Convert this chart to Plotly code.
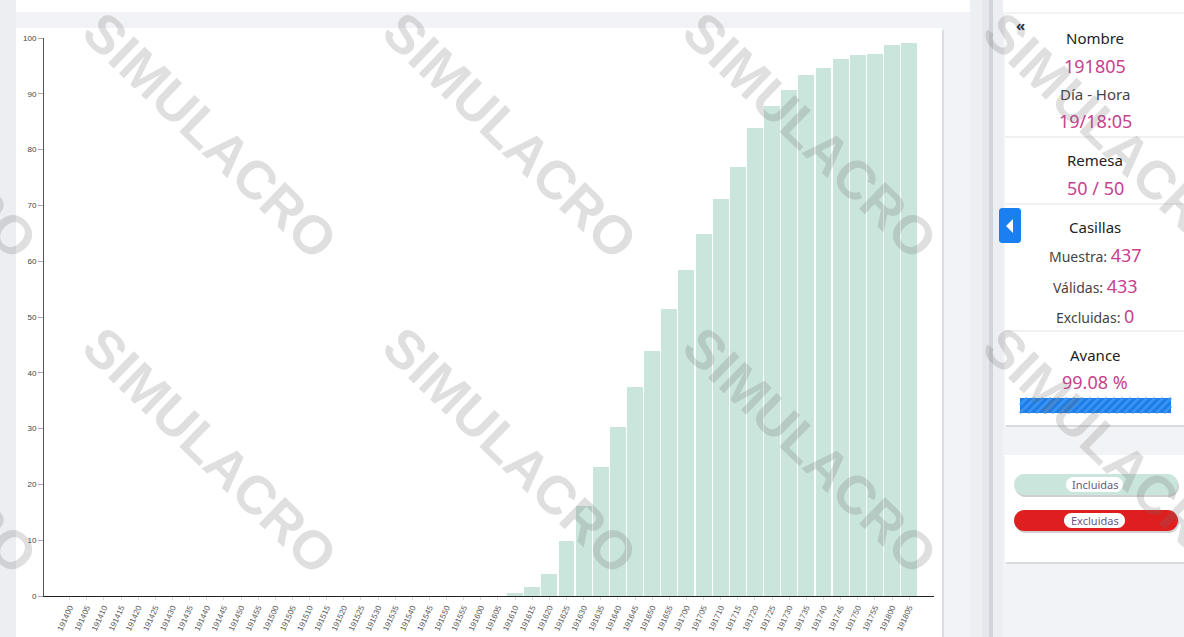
import plotly.graph_objects as go

W, H = 1184, 637

# ---------------- data ----------------
labels = ([f"1914{m:02d}" for m in range(0, 60, 5)] +
          [f"1915{m:02d}" for m in range(0, 60, 5)] +
          [f"1916{m:02d}" for m in range(0, 60, 5)] +
          [f"1917{m:02d}" for m in range(0, 60, 5)] +
          ["191800", "191805"])
incluidas = [0] * 26 + [0.5, 1.6, 4.0, 9.8, 16.2, 23.1, 30.2, 37.5, 43.9, 51.4,
                        58.4, 64.9, 71.1, 76.9, 83.9, 87.8, 90.7, 93.3, 94.6, 96.2,
                        96.9, 97.2, 98.7, 99.1]
excluidas = [0] * 50
yticks = [0, 10, 20, 30, 40, 50, 60, 70, 80, 90, 100]

casillas = [("Muestra:", "437"), ("Válidas:", "433"), ("Excluidas:", "0")]
avance = "99.08 %"
legend_items = [("Incluidas", "#c9e5dc"), ("Excluidas", "#df1f1f")]

# ---------------- helpers ----------------
def px(x):
    return x / W

def py(y):
    return 1 - y / H

def rrect_path(x0, y0, x1, y1, r):
    k = 0.5523 * r
    pts = [
        f"M {px(x0 + r)},{py(y0)}",
        f"L {px(x1 - r)},{py(y0)}",
        f"C {px(x1 - r + k)},{py(y0)} {px(x1)},{py(y0 + r - k)} {px(x1)},{py(y0 + r)}",
        f"L {px(x1)},{py(y1 - r)}",
        f"C {px(x1)},{py(y1 - r + k)} {px(x1 - r + k)},{py(y1)} {px(x1 - r)},{py(y1)}",
        f"L {px(x0 + r)},{py(y1)}",
        f"C {px(x0 + r - k)},{py(y1)} {px(x0)},{py(y1 - r + k)} {px(x0)},{py(y1 - r)}",
        f"L {px(x0)},{py(y0 + r)}",
        f"C {px(x0)},{py(y0 + r - k)} {px(x0 + r - k)},{py(y0)} {px(x0 + r)},{py(y0)}",
        "Z",
    ]
    return " ".join(pts)

shapes = []
annotations = []

def rect(x0, y0, x1, y1, color, layer="below"):
    shapes.append(dict(type="rect", xref="paper", yref="paper",
                       x0=px(x0), x1=px(x1), y0=py(y1), y1=py(y0),
                       fillcolor=color, line=dict(width=0), layer=layer))

def rpath(x0, y0, x1, y1, r, color, layer="below"):
    shapes.append(dict(type="path", xref="paper", yref="paper",
                       path=rrect_path(x0, y0, x1, y1, r), fillcolor=color,
                       line=dict(width=0), layer=layer))

def hline(x0, x1, y, color="#e3e3e3"):
    shapes.append(dict(type="line", xref="paper", yref="paper",
                       x0=px(x0), x1=px(x1), y0=py(y), y1=py(y),
                       line=dict(color=color, width=1), layer="below"))

def text(x, y, s, size=15, color="#222", family="Noto Sans", xanchor="center", **kw):
    annotations.append(dict(xref="paper", yref="paper", x=px(x), y=py(y), text=s,
                            showarrow=False, xanchor=xanchor, yanchor="middle",
                            font=dict(size=size, color=color, family=family), **kw))

PINK = "#c8418e"

# ---------------- page background ----------------
rect(0, 0, W, 12, "#ffffff")
rect(0, 0, 16, H, "#eceef2")
rect(970, 0, 989, H, "#eeeff3")
rect(982, 0, 989, H, "#e6e7ec")
rect(989, 0, 993, H, "#d2d3d8")
rect(993, 0, 1003, H, "#eceef2")
# chart card
rect(17, 30, 944, H, "#dcdde2")
rect(16, 28, 942, H, "#ffffff")
# right info card
rect(1006, 16, W, 427, "#d9dade")
rect(1005, 14, W, 425, "#ffffff")
# legend card
rect(1006, 457, W, 564, "#d9dade")
rect(1005, 455, W, 562, "#ffffff")

# ---------------- right panel ----------------
text(1020, 25, "<b>«</b>", size=15, color="#1c2a44")
text(1095, 38, "Nombre", 15, "#222")
text(1095, 66, "191805", 18, PINK)
text(1095, 94, "Día - Hora", 15, "#444")
text(1095, 121, "19/18:05", 18, PINK)
hline(1005, W, 137)
text(1095, 160, "Remesa", 15, "#222")
text(1095, 188, "50 / 50", 18, PINK)
hline(1005, W, 204)
text(1095, 227, "Casillas", 15, "#222")
for i, (lab, val) in enumerate(casillas):
    yy = [255, 286, 316][i]
    text(1095, yy, f"{lab} <span style='color:{PINK};font-size:18px'>{val}</span>", 14, "#444")
hline(1005, W, 331)
text(1095, 355, "Avance", 15, "#222")
text(1095, 382, avance, 18, PINK)
# progress bar with stripes
rect(1020, 398, 1171, 413, "#1e7ee8")
for sx in range(1012, 1175, 8):
    xa, xb = sx, sx + 15
    ya, yb = 413, 398
    x_start, y_start = xa, ya
    x_end, y_end = xb, yb
    if x_start < 1020:
        y_start = ya - (1020 - x_start); x_start = 1020
    if x_end > 1171:
        y_end = yb + (x_end - 1171); x_end = 1171
    if x_end > x_start and y_start > y_end:
        shapes.append(dict(type="line", xref="paper", yref="paper",
                           x0=px(x_start), y0=py(y_start), x1=px(x_end), y1=py(y_end),
                           line=dict(color="#3b93f2", width=2.5), layer="below"))
# blue tab
rpath(999, 208, 1021, 243, 3, "#1a80f2", layer="above")
shapes.append(dict(type="path", xref="paper", yref="paper",
                   path=f"M {px(1013)},{py(219)} L {px(1013)},{py(233)} L {px(1006)},{py(226)} Z",
                   fillcolor="#ffffff", line=dict(width=0), layer="above"))

# legend pills
for i, (lab, col) in enumerate(legend_items):
    y0 = [474, 510][i]
    rpath(1015, y0 + 2, 1179, y0 + 23, 10.5, "#cfcfd4")
    rpath(1014, y0, 1178, y0 + 21, 10.5, col)
    rpath(1066 - (2 if i else 0), y0 + 3, 1123 + (2 if i else 0), y0 + 18, 7.5, "#ffffff")
    text(1095, y0 + 10.5, lab, 11, "#6a587f")

# ---------------- watermarks ----------------
for cx in [-90, 210, 510, 810, 1110]:
    for cy in [135, 450]:
        annotations.append(dict(xref="paper", yref="paper", x=px(cx), y=py(cy),
                                text="<b>SIMULACRO</b>", showarrow=False,
                                xanchor="center", yanchor="middle", textangle=44,
                                font=dict(size=54, color="rgba(110,110,110,0.22)",
                                          family="Liberation Sans")))

# ---------------- chart ----------------
fig = go.Figure()
fig.add_trace(go.Bar(x=labels, y=incluidas, marker=dict(color="#c9e5dc", line=dict(width=0)),
                     name="Incluidas", hoverinfo="x+y"))
fig.add_trace(go.Bar(x=labels, y=excluidas, marker=dict(color="#df1f1f", line=dict(width=0)),
                     name="Excluidas", hoverinfo="x+y"))

fig.update_layout(
    width=W, height=H,
    margin=dict(l=0, r=0, t=0, b=0, pad=0, autoexpand=False),
    paper_bgcolor="#f2f3f7",
    plot_bgcolor="rgba(0,0,0,0)",
    barmode="stack",
    bargap=0.07,
    showlegend=False,
    shapes=shapes,
    annotations=annotations,
    xaxis=dict(domain=[px(44), px(934)], range=[-1.5, 50.45], type="category",
               showline=True, linecolor="#222", linewidth=1, showgrid=False,
               ticks="outside", ticklen=3, tickcolor="#ddd", tickangle=-65,
               tickfont=dict(size=8, color="#555", family="Liberation Sans"),
               anchor="y", fixedrange=True, automargin=False),
    yaxis=dict(domain=[py(596), py(38)], range=[0, 100], tickvals=yticks,
               showline=True, linecolor="#555", linewidth=1, showgrid=False,
               ticks="outside", ticklen=5, tickcolor="#aaa",
               tickfont=dict(size=8, color="#444", family="Liberation Sans"),
               zeroline=False, anchor="x", fixedrange=True, automargin=False),
)

post = (
    "var gd=document.getElementById('{plot_id}');"
    "document.documentElement.style.cssText='margin:0;padding:0;width:1184px;height:637px;overflow:hidden;';"
    "document.body.style.cssText='margin:0;padding:0;width:1184px;height:637px;overflow:hidden;position:relative;';"
    "gd.style.position='absolute';gd.style.left='0px';gd.style.top='0px';"
)

fig.write_html("out.html", config={"displayModeBar": False}, post_script=post)
